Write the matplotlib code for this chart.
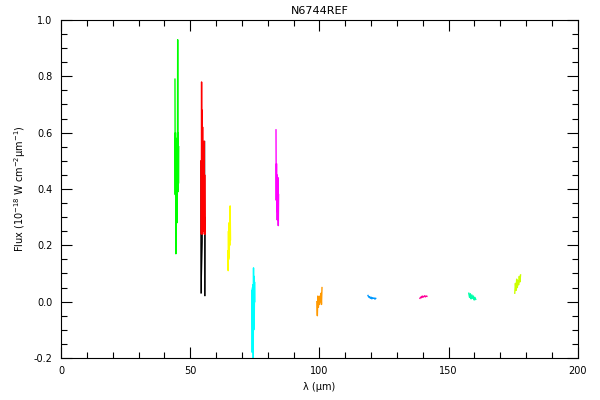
import numpy as np
import matplotlib.pyplot as plt
from matplotlib.ticker import MultipleLocator

plt.rcParams['font.family'] = ['DejaVu Sans']
plt.rcParams['mathtext.default'] = 'regular'

# detector segments: wavelength (micron) and flux (1e-18 W cm-2 um-1)
green_wl = [44.1, 44.2, 44.3, 44.45, 44.55, 44.65, 44.75, 44.85, 44.95, 45.05, 45.15, 45.25, 45.35, 45.45, 45.55]
green_fx = [0.79, 0.38, 0.60, 0.17, 0.58, 0.32, 0.55, 0.28, 0.50, 0.40, 0.93, 0.39, 0.60, 0.42, 0.55]

red_wl = [54.2, 54.3, 54.4, 54.5, 54.6, 54.7, 54.8, 54.9, 55.0, 55.1, 55.2, 55.3, 55.4, 55.5, 55.6, 55.75]
red_fx = [0.50, 0.24, 0.78, 0.26, 0.68, 0.24, 0.62, 0.30, 0.55, 0.25, 0.50, 0.27, 0.57, 0.24, 0.45, 0.24]
red_tail_wl = [54.15, 54.2, 54.25, 55.65, 55.7, 55.75]
red_tail_fx = [0.03, 0.50, 0.03, 0.57, 0.02, 0.30]

yellow_wl = [64.6, 64.7, 64.8, 64.9, 65.0, 65.1, 65.2, 65.3, 65.45, 65.6]
yellow_fx = [0.18, 0.11, 0.25, 0.15, 0.28, 0.16, 0.24, 0.20, 0.34, 0.22]

cyan_wl = [73.9, 74.0, 74.1, 74.2, 74.3, 74.4, 74.5, 74.6, 74.7, 74.8, 74.9, 75.0]
cyan_fx = [0.04, -0.18, 0.05, -0.15, 0.06, -0.20, 0.12, -0.10, 0.09, -0.05, 0.07, 0.00]

magenta_wl = [83.2, 83.3, 83.4, 83.5, 83.6, 83.7, 83.8, 83.9, 84.0, 84.1, 84.2]
magenta_fx = [0.61, 0.36, 0.49, 0.32, 0.45, 0.29, 0.42, 0.30, 0.44, 0.27, 0.38]
magenta_tail_wl = [83.65, 83.7, 83.75, 84.05, 84.1, 84.15]
magenta_tail_fx = [0.40, 0.29, 0.40, 0.42, 0.27, 0.40]

orange_wl = [99.0, 99.2, 99.4, 99.6, 99.8, 100.0, 100.2, 100.4, 100.6, 100.8, 101.0]
orange_fx = [0.00, -0.05, 0.02, -0.02, 0.01, -0.01, 0.02, 0.00, 0.03, -0.01, 0.05]

blue_wl = [118.8, 119.1, 119.4, 119.7, 120.0, 120.3, 120.6, 120.9, 121.2, 121.5, 121.8]
blue_fx = [0.022, 0.016, 0.018, 0.012, 0.016, 0.010, 0.014, 0.012, 0.013, 0.009, 0.012]

pink_wl = [138.9, 139.2, 139.5, 139.8, 140.1, 140.4, 140.7, 141.0, 141.3, 141.6]
pink_fx = [0.012, 0.016, 0.014, 0.020, 0.016, 0.018, 0.021, 0.017, 0.020, 0.019]

teal_wl = [157.8, 158.1, 158.4, 158.7, 159.0, 159.3, 159.6, 159.9, 160.2, 160.5]
teal_fx = [0.030, 0.015, 0.028, 0.010, 0.024, 0.012, 0.020, 0.006, 0.015, 0.008]

lime_wl = [175.6, 175.85, 176.1, 176.35, 176.6, 176.85, 177.1, 177.35, 177.6, 177.85]
lime_fx = [0.030, 0.065, 0.040, 0.080, 0.050, 0.075, 0.060, 0.090, 0.070, 0.095]

segments = [
    (green_wl, green_fx, '#00ff00'),
    (red_wl, red_fx, '#ff0000'),
    (yellow_wl, yellow_fx, '#ffff00'),
    (cyan_wl, cyan_fx, '#00ffff'),
    (magenta_wl, magenta_fx, '#ff00ff'),
    (orange_wl, orange_fx, '#ff9900'),
    (blue_wl, blue_fx, '#0099ff'),
    (pink_wl, pink_fx, '#ff0099'),
    (teal_wl, teal_fx, '#00ffaa'),
    (lime_wl, lime_fx, '#ccff00'),
]

fig = plt.figure(figsize=(6, 4), dpi=100)
ax = fig.add_axes([0.1017, 0.105, 0.8613, 0.845])

ax.plot(red_tail_wl, red_tail_fx, color='black', lw=0.6)
ax.plot(magenta_tail_wl, magenta_tail_fx, color='black', lw=0.6)
for wl, fx, c in segments:
    ax.plot(wl, fx, color=c, lw=1.0)

ax.set_xlim(0, 200)
ax.set_ylim(-0.2, 1.0)
ax.xaxis.set_major_locator(MultipleLocator(50))
ax.xaxis.set_minor_locator(MultipleLocator(10))
ax.yaxis.set_major_locator(MultipleLocator(0.2))
ax.yaxis.set_minor_locator(MultipleLocator(0.05))
ax.tick_params(which='both', direction='in', top=True, right=True, labelsize=7, pad=6)
ax.tick_params(which='major', length=8, width=0.8)
ax.tick_params(which='minor', length=4, width=0.8)
ax.yaxis.set_major_formatter(plt.FuncFormatter(lambda v, p: f'{v:.1f}'))
for s in ax.spines.values():
    s.set_linewidth(0.8)

ax.set_title('N6744REF', fontsize=8, pad=4)
ax.set_xlabel('λ (μm)', fontsize=7)
ax.set_ylabel('Flux (10$^{-18}$ W cm$^{-2}$μm$^{-1}$)', fontsize=7)

fig.savefig('out.png', dpi=100)
